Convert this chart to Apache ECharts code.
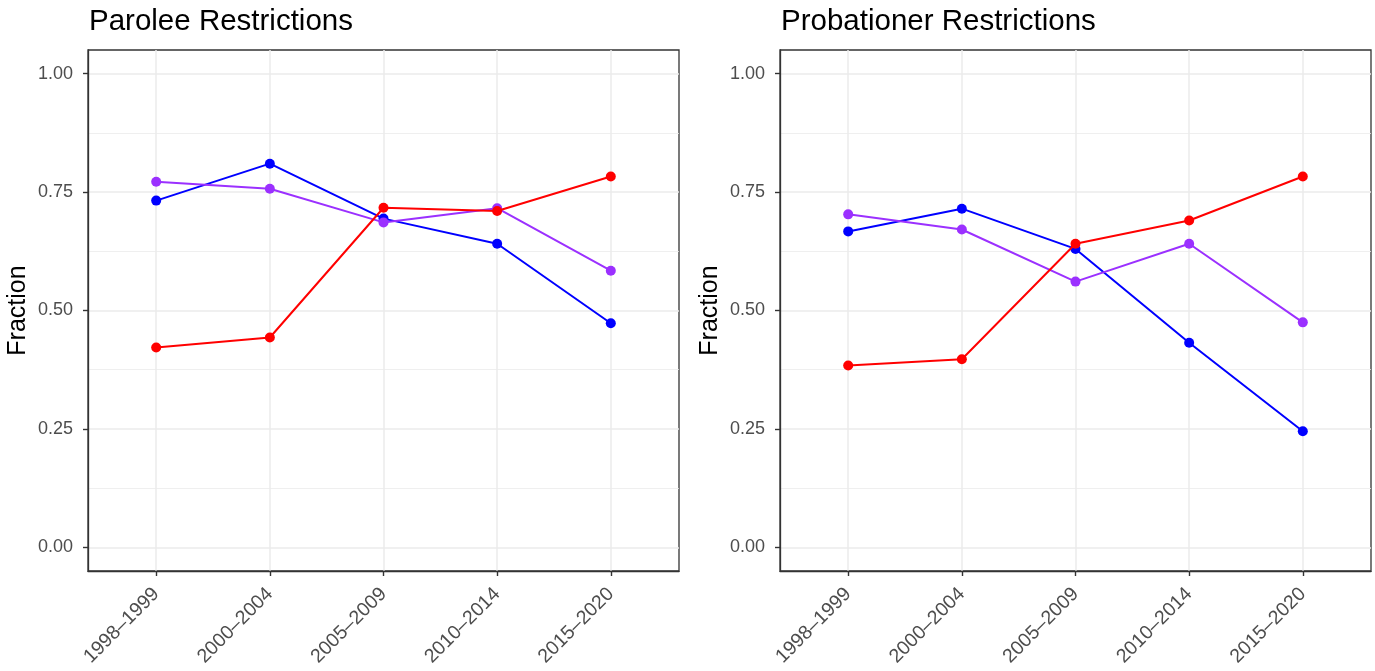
<!DOCTYPE html>
<html>
<head>
<meta charset="utf-8">
<script src="https://cdn.jsdelivr.net/npm/echarts@6/dist/echarts.min.js"></script>
<style>
  html, body { margin: 0; padding: 0; background: #fff; }
  #main { width: 1375px; height: 671px; }
</style>
</head>
<body>
<div id="main"></div>
<script>
// 时间段
const periods = ['1998–1999', '2000–2004', '2005–2009', '2010–2014', '2015–2020'];
const xTicks = [0, 1, 2, 3, 4];
const yTicks = [0, 0.25, 0.5, 0.75, 1];
const yMinorTicks = [0.125, 0.375, 0.625, 0.875];

// Parolee
const paroleeBlue = [0.732, 0.810, 0.694, 0.641, 0.473];
const paroleePurple = [0.772, 0.757, 0.686, 0.716, 0.584];
const paroleeRed = [0.422, 0.443, 0.717, 0.710, 0.783];

// Probationer
const probBlue = [0.667, 0.715, 0.630, 0.432, 0.245];
const probPurple = [0.703, 0.671, 0.561, 0.641, 0.475];
const probRed = [0.384, 0.397, 0.641, 0.690, 0.783];

const font = '"Liberation Sans", Arial, Helvetica, sans-serif';
const panels = [
  { title: 'Parolee Restrictions', left: 88, series: [paroleeBlue, paroleePurple, paroleeRed] },
  { title: 'Probationer Restrictions', left: 780, series: [probBlue, probPurple, probRed] },
];
const colors = ['#0000ff', '#9b30ff', '#ff0000'];

const chart = echarts.init(document.getElementById('main'));

const option = {
  animation: false,
  title: [], grid: [], xAxis: [], yAxis: [], series: []
};

const lineStyle = { color: '#333', width: 1.3 };
const tickStyle = { color: '#333', width: 1.4 };

panels.forEach((p, k) => {
  option.title.push({
    text: p.title, left: p.left - 4, top: 2,
    textStyle: { fontFamily: font, fontSize: 29.5, fontWeight: 'normal', color: '#000' }
  });
  option.grid.push({
    left: p.left, top: 50, width: 591, height: 521,
    show: true, borderColor: '#333', borderWidth: 1.3, backgroundColor: 'transparent'
  });
  option.xAxis.push({
    type: 'value', gridIndex: k, min: -0.6, max: 4.6,
    axisLine: { show: true, onZero: false, lineStyle: lineStyle },
    axisTick: { show: true, length: 5, lineStyle: tickStyle, customValues: xTicks },
    axisLabel: {
      customValues: xTicks,
      formatter: v => periods[Math.round(v)] || '',
      rotate: 45, margin: 20, color: '#4d4d4d', fontSize: 19.5, fontFamily: font
    },
    splitLine: { show: true, lineStyle: { color: '#ebebeb', width: 1.5 } }
  });
  // main y axis
  option.yAxis.push({
    type: 'value', gridIndex: k, min: -0.05, max: 1.05,
    name: 'Fraction', nameLocation: 'middle', nameGap: 57,
    nameTextStyle: { fontFamily: font, fontSize: 25, color: '#000' },
    axisLine: { show: true, onZero: false, lineStyle: lineStyle },
    axisTick: { show: true, length: 5, lineStyle: tickStyle, customValues: yTicks },
    axisLabel: {
      customValues: yTicks,
      formatter: v => v.toFixed(2),
      margin: 15, color: '#4d4d4d', fontSize: 18, fontFamily: font
    },
    splitLine: { show: true, lineStyle: { color: '#ebebeb', width: 1.5 } }
  });
  p.series.forEach((vals, j) => {
    option.series.push({
      type: 'line', xAxisIndex: k, yAxisIndex: 2 * k,
      data: vals.map((v, i) => [i, v]),
      symbol: 'circle', symbolSize: 10,
      lineStyle: { color: colors[j], width: 2 },
      itemStyle: { color: colors[j] },
      z: 2 + j
    });
  });
  // minor grid lines only
  option.yAxis.push({
    type: 'value', gridIndex: k, min: -0.05, max: 1.05, position: 'left', offset: 0,
    axisLine: { show: false, onZero: false },
    axisTick: { show: false, customValues: yMinorTicks },
    axisLabel: { show: false, customValues: yMinorTicks },
    splitLine: { show: true, lineStyle: { color: '#ebebeb', width: 0.8 } }
  });
});

chart.setOption(option);
</script>
</body>
</html>
